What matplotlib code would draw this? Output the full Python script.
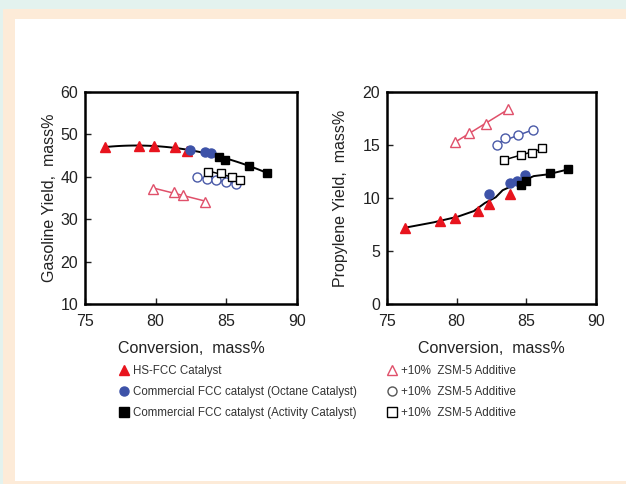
import numpy as np
import matplotlib
matplotlib.use("Agg")
import matplotlib.pyplot as plt
from matplotlib.lines import Line2D
from matplotlib.patches import Rectangle

plt.rcParams['font.family'] = ['Liberation Sans', 'DejaVu Sans']

# ---- Data: Gasoline yield (left) ----
g_hs_x = [76.4, 78.8, 79.9, 81.4, 82.2]
g_hs_y = [47.0, 47.3, 47.3, 47.0, 46.0]
g_oct_x = [82.4, 83.5, 83.9]
g_oct_y = [46.4, 45.9, 45.5]
g_act_x = [84.5, 84.9, 86.6, 87.9]
g_act_y = [44.7, 44.0, 42.5, 41.0]
g_hs_z_x = [79.8, 81.3, 81.9, 83.5]
g_hs_z_y = [37.2, 36.3, 35.8, 34.1]
g_oct_z_x = [82.9, 83.6, 84.3, 85.0, 85.7]
g_oct_z_y = [40.0, 39.4, 39.2, 38.8, 38.4]
g_act_z_x = [83.7, 84.6, 85.4, 86.0]
g_act_z_y = [41.2, 40.9, 40.0, 39.3]

# ---- Data: Propylene yield (right) ----
p_hs_x = [76.3, 78.8, 79.9, 81.5, 82.3, 83.8]
p_hs_y = [7.2, 7.8, 8.1, 8.8, 9.4, 10.4]
p_oct_x = [82.3, 83.8, 84.3, 84.9]
p_oct_y = [10.4, 11.4, 11.6, 12.2]
p_act_x = [84.6, 85.0, 86.7, 88.0]
p_act_y = [11.2, 11.6, 12.4, 12.7]
p_hs_z_x = [79.9, 80.9, 82.1, 83.7]
p_hs_z_y = [15.3, 16.1, 17.0, 18.4]
p_oct_z_x = [82.9, 83.5, 84.4, 85.5]
p_oct_z_y = [15.0, 15.7, 15.9, 16.4]
p_act_z_x = [83.4, 84.6, 85.4, 86.1]
p_act_z_y = [13.6, 14.1, 14.2, 14.7]

legend_left = ['HS-FCC Catalyst',
               'Commercial FCC catalyst (Octane Catalyst)',
               'Commercial FCC catalyst (Activity Catalyst)']
legend_right = ['+10%  ZSM-5 Additive'] * 3

RED = '#e8141e'
BLUE = '#3d52a8'
PINK = '#e0506a'
OBLUE = '#4a5aa8'

fig = plt.figure(figsize=(6.26, 4.84), dpi=100)
fig.patch.set_facecolor('#e3f2ee')
fig.patches.append(Rectangle((3/626, 0), 1, 1 - 9/484, transform=fig.transFigure,
                             facecolor='#fdebd8', edgecolor='none', zorder=-10))
fig.patches.append(Rectangle((15/626, 3/484), 1, 1 - 22/484, transform=fig.transFigure,
                             facecolor='white', edgecolor='none', zorder=-9))

ax1 = fig.add_axes([85/626, 1 - 304/484, 212/626, 212/484])
ax2 = fig.add_axes([387/626, 1 - 304/484, 209/626, 212/484])
for a in (ax1, ax2):
    a.set_facecolor('white')

def fit_line(ax, xs, ys, deg, color, lw=1.0):
    xs = np.asarray(xs); ys = np.asarray(ys)
    c = np.polyfit(xs, ys, deg)
    xx = np.linspace(xs.min(), xs.max(), 100)
    ax.plot(xx, np.polyval(c, xx), color=color, lw=lw, zorder=2)

def smooth_line(ax, xs, ys, color, lw=1.4, win=3):
    xs = np.asarray(xs, float); ys = np.asarray(ys, float)
    o = np.argsort(xs, kind='stable')
    xs, ys = xs[o], ys[o]
    k = np.ones(win) / win
    mx = np.convolve(xs, k, mode='valid')
    my = np.convolve(ys, k, mode='valid')
    mx = np.concatenate([[xs[0]], mx, [xs[-1]]])
    my = np.concatenate([[ys[0]], my, [ys[-1]]])
    ax.plot(mx, my, color=color, lw=lw, zorder=2)

def panel(ax, hs, oc, ac, hz, oz, az, deg_main):
    allx = hs[0] + oc[0] + ac[0]
    ally = hs[1] + oc[1] + ac[1]
    if deg_main:
        fit_line(ax, allx, ally, deg_main, 'black', 1.4)
    else:
        smooth_line(ax, allx, ally, 'black', 1.4)
    fit_line(ax, hz[0], hz[1], 1, PINK, 1.1)
    fit_line(ax, oz[0], oz[1], 1, OBLUE, 1.1)
    fit_line(ax, az[0], az[1], 1, 'black', 1.1)
    ax.plot(hs[0], hs[1], '^', color=RED, ms=7, ls='none', zorder=3)
    ax.plot(oc[0], oc[1], 'o', color=BLUE, ms=6.5, ls='none', zorder=3)
    ax.plot(ac[0], ac[1], 's', color='black', ms=6, ls='none', zorder=3)
    ax.plot(hz[0], hz[1], '^', mfc='white', mec=PINK, mew=1.0, ms=7, ls='none', zorder=3)
    ax.plot(oz[0], oz[1], 'o', mfc='white', mec=OBLUE, mew=1.0, ms=6.5, ls='none', zorder=3)
    ax.plot(az[0], az[1], 's', mfc='white', mec='black', mew=1.0, ms=6, ls='none', zorder=3)
    ax.set_xlim(75, 90)
    ax.set_xticks([75, 80, 85, 90])
    ax.tick_params(direction='in', length=4, width=1, labelsize=11.5, pad=5, colors='#222222')
    ax.tick_params(axis='x', pad=7)
    for s in ax.spines.values():
        s.set_linewidth(1.8)
    ax.set_xlabel('Conversion,  mass%', fontsize=11.5, labelpad=9, color='#222222')

panel(ax1, (g_hs_x, g_hs_y), (g_oct_x, g_oct_y), (g_act_x, g_act_y),
      (g_hs_z_x, g_hs_z_y), (g_oct_z_x, g_oct_z_y), (g_act_z_x, g_act_z_y), 2)
ax1.set_ylim(10, 60)
ax1.set_yticks([10, 20, 30, 40, 50, 60])
ax1.set_ylabel('Gasoline Yield,  mass%', fontsize=11.5, labelpad=2, color='#222222')

panel(ax2, (p_hs_x, p_hs_y), (p_oct_x, p_oct_y), (p_act_x, p_act_y),
      (p_hs_z_x, p_hs_z_y), (p_oct_z_x, p_oct_z_y), (p_act_z_x, p_act_z_y), 0)
ax2.set_ylim(0, 20)
ax2.set_yticks([0, 5, 10, 15, 20])
ax2.set_ylabel('Propylene Yield,  mass%', fontsize=11.5, labelpad=10, color='#222222')

h_left = [
    Line2D([], [], marker='^', color=RED, ls='none', ms=7),
    Line2D([], [], marker='o', color=BLUE, ls='none', ms=6.5),
    Line2D([], [], marker='s', color='black', ls='none', ms=6.5),
]
h_right = [
    Line2D([], [], marker='^', mfc='white', mec=PINK, ls='none', ms=7),
    Line2D([], [], marker='o', mfc='white', mec='#555555', ls='none', ms=6.5),
    Line2D([], [], marker='s', mfc='white', mec='black', ls='none', ms=6.5),
]
kw = dict(loc='upper left', frameon=False, fontsize=8.3, handlelength=0.8,
          handletextpad=0.4, labelspacing=0.78, borderaxespad=0, borderpad=0)
leg1 = fig.legend(h_left, legend_left, bbox_to_anchor=(119/626, 1 - 365/484), **kw)
leg2 = fig.legend(h_right, legend_right, bbox_to_anchor=(387/626, 1 - 365/484), **kw)
for lg in (leg1, leg2):
    for t in lg.get_texts():
        t.set_color('#333333')

fig.savefig('out.png', dpi=100, facecolor=fig.get_facecolor())
